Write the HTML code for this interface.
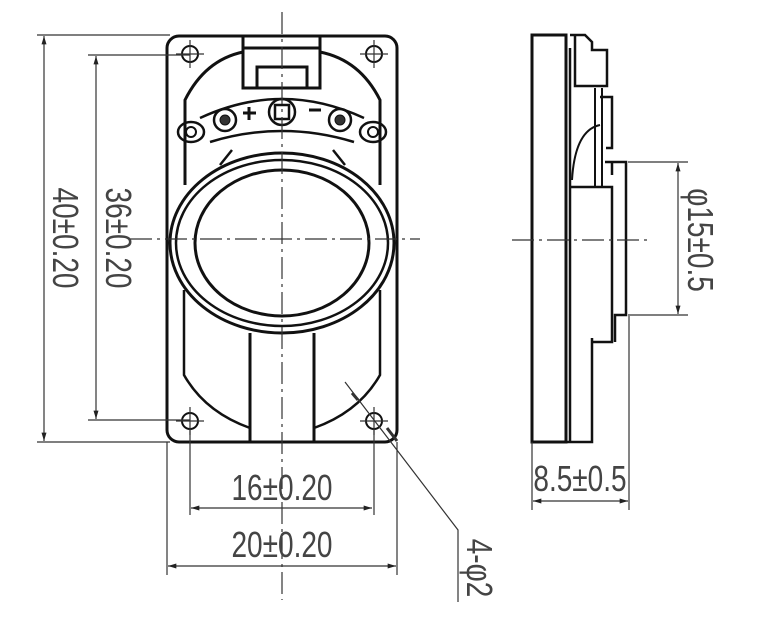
<!DOCTYPE html>
<html><head><style>
html,body{margin:0;padding:0;background:#fff;}
svg{display:block;}
.t{font-family:"Liberation Sans",sans-serif;font-size:28px;fill:#444;}
</style></head><body>
<svg width="757" height="618" viewBox="0 0 757 618" xmlns="http://www.w3.org/2000/svg">
<defs>
<marker id="a" viewBox="0 0 10 6" refX="10" refY="3" markerWidth="12" markerHeight="5" orient="auto-start-reverse" markerUnits="userSpaceOnUse"><path d="M0,0L10,3L0,6z" fill="#222"/></marker>
</defs>
<g fill="none" stroke="#111" stroke-width="3">
<!-- front outer -->
<rect x="167" y="36" width="230" height="406" rx="12"/>
<!-- tab -->
<path d="M243,36V88H320V36M243,48H320"/>
<path d="M257,88V67H307V88"/>
<!-- inner upper contour -->
<path d="M185,185V100Q205,60 243,52M320,52Q360,60 380,100V185"/>
<!-- terminal board -->
<path d="M200,118Q282,80 364,118" stroke-width="2.5"/>
<path d="M210,142Q282,120 354,142" stroke-width="2.5"/>
<ellipse cx="191" cy="132" rx="13" ry="10" stroke-width="2.5"/>
<ellipse cx="373" cy="132" rx="13" ry="10" stroke-width="2.5"/>
<circle cx="191" cy="132" r="5" stroke-width="2"/>
<circle cx="373" cy="132" r="5" stroke-width="2"/>
<circle cx="225" cy="120" r="11" stroke-width="2.5"/>
<circle cx="340" cy="120" r="11" stroke-width="2.5"/>
<circle cx="225" cy="120" r="5" fill="#333" stroke-width="1"/>
<circle cx="340" cy="120" r="5" fill="#333" stroke-width="1"/>
<circle cx="282" cy="112" r="13" stroke-width="2.5"/>
<rect x="275" y="105" width="14" height="14" stroke-width="2.5"/>
<path d="M243,113H256M249,107V120M309,110H321" stroke-width="3"/>
<path d="M232,150L220,165M333,150L345,165" stroke-width="2.5"/>
<!-- rings -->
<ellipse cx="282" cy="243" rx="112" ry="90"/>
<ellipse cx="282" cy="243" rx="106" ry="83" stroke-width="2.5"/>
<ellipse cx="282" cy="243" rx="87" ry="73"/>
<!-- lower -->
<path d="M250,333V442M314,333V442"/>
<path d="M184,290V375Q205,412 250,428M380,290V375Q359,412 314,428" stroke-width="2.5"/>
<!-- holes -->
<g stroke-width="2">
<circle cx="190" cy="54" r="8"/><circle cx="374" cy="54" r="8"/>
<circle cx="190" cy="421" r="8"/><circle cx="374" cy="421" r="8"/>
</g>
<!-- side view -->
<rect x="532" y="35" width="34" height="407"/>
<path d="M566,35V442H592V338M570,48V442" stroke-width="2.5"/>
<path d="M570,35H585L592,42V50H607V86H575V35" stroke-width="2.5"/>
<path d="M600,97H612V148H606" stroke-width="2.5"/>
<path d="M570,187H612V342H592" stroke-width="2.5"/>
<path d="M605,162H626V315H615V342M612,175V162" stroke-width="2.5"/>
<path d="M602,88V187M595,88V187M572,180Q575,130 600,125" stroke-width="2"/>
</g>
<!-- thin lines -->
<g fill="none" stroke="#333" stroke-width="1.2">
<path d="M282,12V600" stroke-dasharray="22,5,3,5"/>
<path d="M130,239H420" stroke-dasharray="22,5,3,5"/>
<path d="M512,240H652" stroke-dasharray="22,5,3,5"/>
<path d="M176,54H204M360,54H388M190,40V68M374,40V68M176,421H204M360,421H388M190,407V435M374,407V435"/>
<!-- left dims -->
<path d="M37,35H170M37,442H170M88,55H190M88,420H190"/>
<path d="M44,36V441" marker-start="url(#a)" marker-end="url(#a)"/>
<path d="M96,56V419" marker-start="url(#a)" marker-end="url(#a)"/>
<!-- bottom dims -->
<path d="M167,442V575M397,442V575M190,430V515M374,430V515"/>
<path d="M191,508H372" marker-start="url(#a)" marker-end="url(#a)"/>
<path d="M168,566H396" marker-start="url(#a)" marker-end="url(#a)"/>
<path d="M345,382L458,530V602"/>
<path d="M387,428L397,441" stroke-width="3"/>
<path d="M352,393L358,400" stroke-width="3"/>
<!-- side dims -->
<path d="M628,162H688M628,315H688"/>
<path d="M678,163V314" marker-start="url(#a)" marker-end="url(#a)"/>
<path d="M532,442V510M629,316V510"/>
<path d="M533,501H628" marker-start="url(#a)" marker-end="url(#a)"/>
</g>
<!-- text -->
<text class="t" x="282" y="500" text-anchor="middle" transform="translate(282,500) scale(1,1.3) translate(-282,-500)">16±0.20</text>
<text class="t" x="282" y="557" text-anchor="middle" transform="translate(282,557) scale(1,1.3) translate(-282,-557)">20±0.20</text>
<text class="t" x="580" y="491" text-anchor="middle" transform="translate(580,491) scale(1,1.3) translate(-580,-491)">8.5±0.5</text>
<text class="t" text-anchor="middle" transform="translate(53,238) rotate(90) scale(1,1.3)">40±0.20</text>
<text class="t" text-anchor="middle" transform="translate(106,238) rotate(90) scale(1,1.3)">36±0.20</text>
<text class="t" text-anchor="middle" transform="translate(688,240) rotate(90) scale(1,1.3)">φ15±0.5</text>
<text class="t" text-anchor="middle" transform="translate(467,568) rotate(90) scale(1,1.3)">4-φ2</text>
</svg>
</body></html>
